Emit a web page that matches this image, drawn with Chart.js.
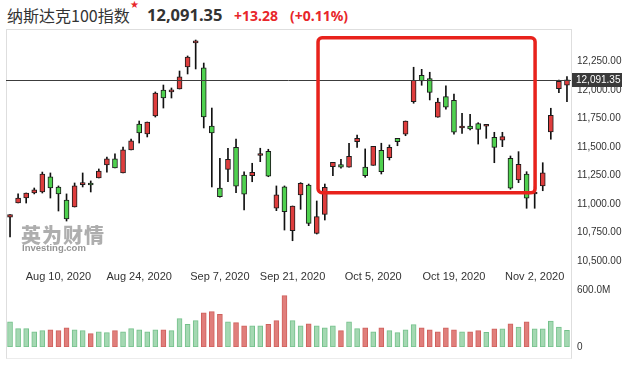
<!DOCTYPE html>
<html>
<head>
<meta charset="utf-8">
<script src="https://cdn.jsdelivr.net/npm/chart.js@4.4.1/dist/chart.umd.min.js"></script>
<style>
  html, body { margin: 0; padding: 0; background: #fff; }
  body { width: 622px; height: 371px; position: relative; overflow: hidden; font-family: "Liberation Sans", Arial, sans-serif; }
  .abs { position: absolute; white-space: nowrap; }
  #name { left: 7px; top: 7px; font: 16px/16px "Noto Sans CJK SC", sans-serif; color: #333; }
  #star { left: 130px; top: 0px; font: 10px/10px "DejaVu Sans", sans-serif; color: #e8262a; }
  #last { left: 147px; top: 7px; font: bold 16.5px/16.5px "Noto Sans", sans-serif; color: #333; }
  #chg { left: 234px; top: 9px; font: bold 14px/14px "Noto Sans", sans-serif; color: #e8262a; }
  #pct { left: 290px; top: 9px; font: bold 14px/14px "Noto Sans", sans-serif; color: #e8262a; }
  #frame { left: 6px; top: 29px; width: 564px; height: 328px; border: 1px solid #dedede; border-bottom-color: #ececec; }
  #price { position: absolute; left: 0; top: 30px; }
  #volume { position: absolute; left: 0; top: 284px; }
  #wm1 { left: 21px; top: 225px; font: 900 20px/20px "Noto Sans CJK SC", sans-serif; color: rgba(120,120,120,0.6); letter-spacing: 1px; }
  #wm2 { left: 22px; top: 243px; font: bold 9.5px/10px "Liberation Sans", Arial, sans-serif; color: rgba(90,90,90,0.65); }
</style>
</head>
<body>
<div id="frame" class="abs"></div>
<div id="name" class="abs">纳斯达克100指数</div>
<div id="star" class="abs">★</div>
<div id="last" class="abs">12,091.35</div>
<div id="chg" class="abs">+13.28</div>
<div id="pct" class="abs">(+0.11%)</div>
<canvas id="price" width="622" height="260"></canvas>
<canvas id="volume" width="622" height="70"></canvas>
<div id="wm1" class="abs">英为财情</div>
<div id="wm2" class="abs">Investing.com</div>
<script>
// trading days
const dates = [
  '2020-07-31', '2020-08-03', '2020-08-04', '2020-08-05', '2020-08-06', '2020-08-07',
  '2020-08-10', '2020-08-11', '2020-08-12', '2020-08-13', '2020-08-14',
  '2020-08-17', '2020-08-18', '2020-08-19', '2020-08-20', '2020-08-21',
  '2020-08-24', '2020-08-25', '2020-08-26', '2020-08-27', '2020-08-28',
  '2020-08-31', '2020-09-01', '2020-09-02', '2020-09-03', '2020-09-04',
  '2020-09-08', '2020-09-09', '2020-09-10', '2020-09-11',
  '2020-09-14', '2020-09-15', '2020-09-16', '2020-09-17', '2020-09-18',
  '2020-09-21', '2020-09-22', '2020-09-23', '2020-09-24', '2020-09-25',
  '2020-09-28', '2020-09-29', '2020-09-30', '2020-10-01', '2020-10-02',
  '2020-10-05', '2020-10-06', '2020-10-07', '2020-10-08', '2020-10-09',
  '2020-10-12', '2020-10-13', '2020-10-14', '2020-10-15', '2020-10-16',
  '2020-10-19', '2020-10-20', '2020-10-21', '2020-10-22', '2020-10-23',
  '2020-10-26', '2020-10-27', '2020-10-28', '2020-10-29', '2020-10-30',
  '2020-11-02', '2020-11-03', '2020-11-04', '2020-11-05', '2020-11-06'
];

const openP = [
  10884, 11009, 11053, 11097, 11106, 11238, 11150, 11036, 10974, 11170,
  11185, 11229, 11343, 11396, 11273, 11475, 11703, 11615, 11773, 12001,
  11985, 12010, 12203, 12415, 12195, 11685, 11140, 11305, 11498, 11255,
  11249, 11426, 11463, 10963, 11152, 10766, 11080, 11167, 10743, 10910,
  11328, 11346, 11323, 11548, 11325, 11340, 11472, 11407, 11577, 11613,
  11899, 12131, 12101, 11762, 11943, 11911, 11668, 11685, 11706, 11683,
  11586, 11560, 11402, 11211, 11264, 11088, 11159, 11633, 12013, 12043
];
const highP = [
  10907, 11089, 11097, 11141, 11281, 11273, 11159, 11089, 11185, 11273,
  11203, 11308, 11413, 11440, 11501, 11571, 11729, 11720, 11984, 12045,
  12019, 12168, 12300, 12440, 12238, 11843, 11402, 11490, 11571, 11284,
  11358, 11490, 11481, 11159, 11159, 10983, 11188, 11176, 11027, 11176,
  11367, 11393, 11534, 11606, 11484, 11507, 11534, 11519, 11577, 11729,
  12201, 12183, 12157, 11929, 12037, 11966, 11797, 11788, 11714, 11694,
  11630, 11630, 11422, 11460, 11284, 11152, 11363, 11841, 12089, 12118
];
const lowP = [
  10711, 11009, 11009, 11089, 11097, 11053, 10939, 10851, 10974, 11150,
  11106, 11229, 11281, 11317, 11273, 11475, 11536, 11589, 11764, 11843,
  11931, 12010, 12142, 12186, 11668, 11150, 11060, 11196, 11100, 10948,
  11196, 11372, 11240, 10942, 10772, 10678, 10954, 10810, 10737, 10860,
  11249, 11314, 11323, 11498, 11235, 11340, 11264, 11387, 11512, 11600,
  11885, 12043, 11914, 11762, 11832, 11613, 11621, 11650, 11527, 11577,
  11363, 11504, 11130, 11188, 10963, 10963, 11117, 11569, 11978, 11899
];
const closeP = [
  10907, 11053, 11097, 11124, 11264, 11141, 11089, 10869, 11159, 11176,
  11167, 11290, 11396, 11317, 11475, 11554, 11624, 11720, 11975, 11931,
  11993, 12116, 12291, 12423, 11764, 11624, 11065, 11393, 11156, 11086,
  11279, 11431, 11244, 11080, 10933, 10983, 11182, 10831, 10889, 11147,
  11367, 11323, 11419, 11577, 11249, 11507, 11284, 11498, 11548, 11729,
  12087, 12081, 11981, 11896, 11850, 11630, 11674, 11659, 11655, 11688,
  11498, 11592, 11139, 11349, 11051, 11100, 11275, 11779, 12078, 12091.35
];
// volume, millions
const volume = [
  266, 193, 193, 161, 172, 182, 172, 203, 182, 172,
  140, 161, 151, 172, 161, 193, 182, 161, 182, 182,
  172, 298, 239, 277, 361, 372, 344, 266, 256, 224,
  224, 224, 239, 277, 540, 277, 224, 245, 224, 203,
  224, 172, 266, 193, 203, 161, 203, 172, 151, 182,
  235, 203, 182, 161, 203, 182, 161, 161, 172, 155,
  190, 190, 245, 211, 266, 190, 190, 274, 211, 176
];

const priceTicks = [10500, 10750, 11000, 11250, 11500, 11750, 12000, 12250];
const volumeTicks = [0, 600];
const dateTicks = ['2020-08-10', '2020-08-24', '2020-09-07', '2020-09-21', '2020-10-05', '2020-10-19', '2020-11-02'];

const MONTHS = ['Jan', 'Feb', 'Mar', 'Apr', 'May', 'Jun', 'Jul', 'Aug', 'Sep', 'Oct', 'Nov', 'Dec'];
const UP = '#de3d3d', DOWN = '#4fd14f';
const VOL_UP = '#a4d8b2', VOL_UP_EDGE = '#74c18b';
const VOL_DOWN = '#e07e7b', VOL_DOWN_EDGE = '#cf605c';
const FONT = '"Liberation Sans", Arial, sans-serif';

function fmtPrice(v) {
  return v.toLocaleString('en-US', { minimumFractionDigits: 2, maximumFractionDigits: 2 });
}
function fmtDate(iso) {
  const [y, m, d] = iso.split('-').map(Number);
  return MONTHS[m - 1] + ' ' + d + ', ' + y;
}

// each date tick sits on the first trading day on or after it
const tickIdx = dateTicks.map(t => dates.findIndex(d => d >= t));

const bodyColors = closeP.map((c, i) => c >= openP[i] ? UP : DOWN);
const volUp = closeP.map((c, i) => i === 0 || c >= closeP[i - 1]);

// last price line + tag, and the red highlight box
const overlay = {
  id: 'overlay',
  afterDatasetsDraw(chart) {
    const { ctx, chartArea: a, scales: { x, y } } = chart;
    const last = closeP[closeP.length - 1];
    const py = Math.round(y.getPixelForValue(last)) + 0.5;
    ctx.save();
    ctx.strokeStyle = '#3c3c3c';
    ctx.lineWidth = 1;
    ctx.beginPath();
    ctx.moveTo(a.left, py);
    ctx.lineTo(a.right, py);
    ctx.stroke();

    ctx.fillStyle = '#3a3a3a';
    ctx.fillRect(a.right + 1, py - 7.5, 50, 14);
    ctx.fillStyle = '#fff';
    ctx.font = '10px ' + FONT;
    ctx.textBaseline = 'middle';
    ctx.textAlign = 'left';
    ctx.fillText(fmtPrice(last), a.right + 5, py);

    // highlight: Sep 25 .. Nov 5, 11,100 - 12,460
    const x0 = x.getPixelForValue(38.16), x1 = x.getPixelForValue(65.05);
    const y0 = y.getPixelForValue(12460), y1 = y.getPixelForValue(11100);
    ctx.strokeStyle = '#e8221c';
    ctx.lineWidth = 3.5;
    ctx.lineJoin = 'round';
    ctx.beginPath();
    ctx.roundRect(x0, y0, x1 - x0, y1 - y0, 4);
    ctx.stroke();
    ctx.restore();
  }
};

new Chart(document.getElementById('price'), {
  type: 'bar',
  data: {
    labels: dates,
    datasets: [
      {
        label: 'body',
        data: openP.map((o, i) => [o, closeP[i]]),
        backgroundColor: bodyColors,
        borderColor: '#1c1c1c',
        borderWidth: 1,
        borderSkipped: false,
        barThickness: 5,
        minBarLength: 2,
        grouped: false,
        order: 0
      },
      {
        label: 'wick',
        data: lowP.map((l, i) => [l, highP[i]]),
        backgroundColor: '#111',
        borderWidth: 0,
        barThickness: 1,
        grouped: false,
        order: 1
      }
    ]
  },
  options: {
    responsive: false,
    animation: false,
    devicePixelRatio: 1,
    layout: { padding: { left: 6, right: 0, top: 0, bottom: 0 } },
    plugins: { legend: { display: false }, tooltip: { enabled: false } },
    scales: {
      x: {
        grid: { display: false, drawTicks: false },
        border: { display: false },
        ticks: {
          autoSkip: false,
          maxRotation: 0,
          minRotation: 0,
          padding: 5,
          color: '#333',
          font: { family: FONT, size: 11 },
          callback: v => fmtDate(dateTicks[tickIdx.indexOf(v)])
        },
        afterBuildTicks: s => { s.ticks = tickIdx.map(i => ({ value: i })); },
        afterFit: s => { s.height = 25; s.paddingLeft = 0; s.paddingRight = 0; }
      },
      y: {
        position: 'right',
        min: 10465,
        max: 12528,
        grid: { display: false, drawTicks: false },
        border: { display: false },
        ticks: {
          padding: 6,
          color: '#333',
          font: { family: FONT, size: 10 },
          callback: v => fmtPrice(v)
        },
        afterBuildTicks: s => { s.ticks = priceTicks.map(v => ({ value: v })); },
        afterFit: s => { s.width = 51; s.paddingTop = 0; s.paddingBottom = 0; }
      }
    }
  },
  plugins: [overlay]
});

new Chart(document.getElementById('volume'), {
  type: 'bar',
  data: {
    labels: dates,
    datasets: [{
      label: 'volume',
      data: volume,
      backgroundColor: volUp.map(u => u ? VOL_UP : VOL_DOWN),
      borderColor: volUp.map(u => u ? VOL_UP_EDGE : VOL_DOWN_EDGE),
      borderWidth: 1,
      borderSkipped: false,
      barThickness: 5
    }]
  },
  options: {
    responsive: false,
    animation: false,
    devicePixelRatio: 1,
    layout: { padding: { left: 6, right: 0, top: 6, bottom: 7 } },
    plugins: { legend: { display: false }, tooltip: { enabled: false } },
    scales: {
      x: { display: false },
      y: {
        position: 'right',
        min: 0,
        max: 600,
        grid: { display: false, drawTicks: false },
        border: { display: false },
        ticks: {
          padding: 6,
          color: '#333',
          font: { family: FONT, size: 10 },
          callback: v => v === 0 ? '0' : v.toFixed(1) + 'M'
        },
        afterBuildTicks: s => { s.ticks = volumeTicks.map(v => ({ value: v })); },
        afterFit: s => { s.width = 51; s.paddingTop = 0; s.paddingBottom = 0; }
      }
    }
  }
});
</script>
</body>
</html>
